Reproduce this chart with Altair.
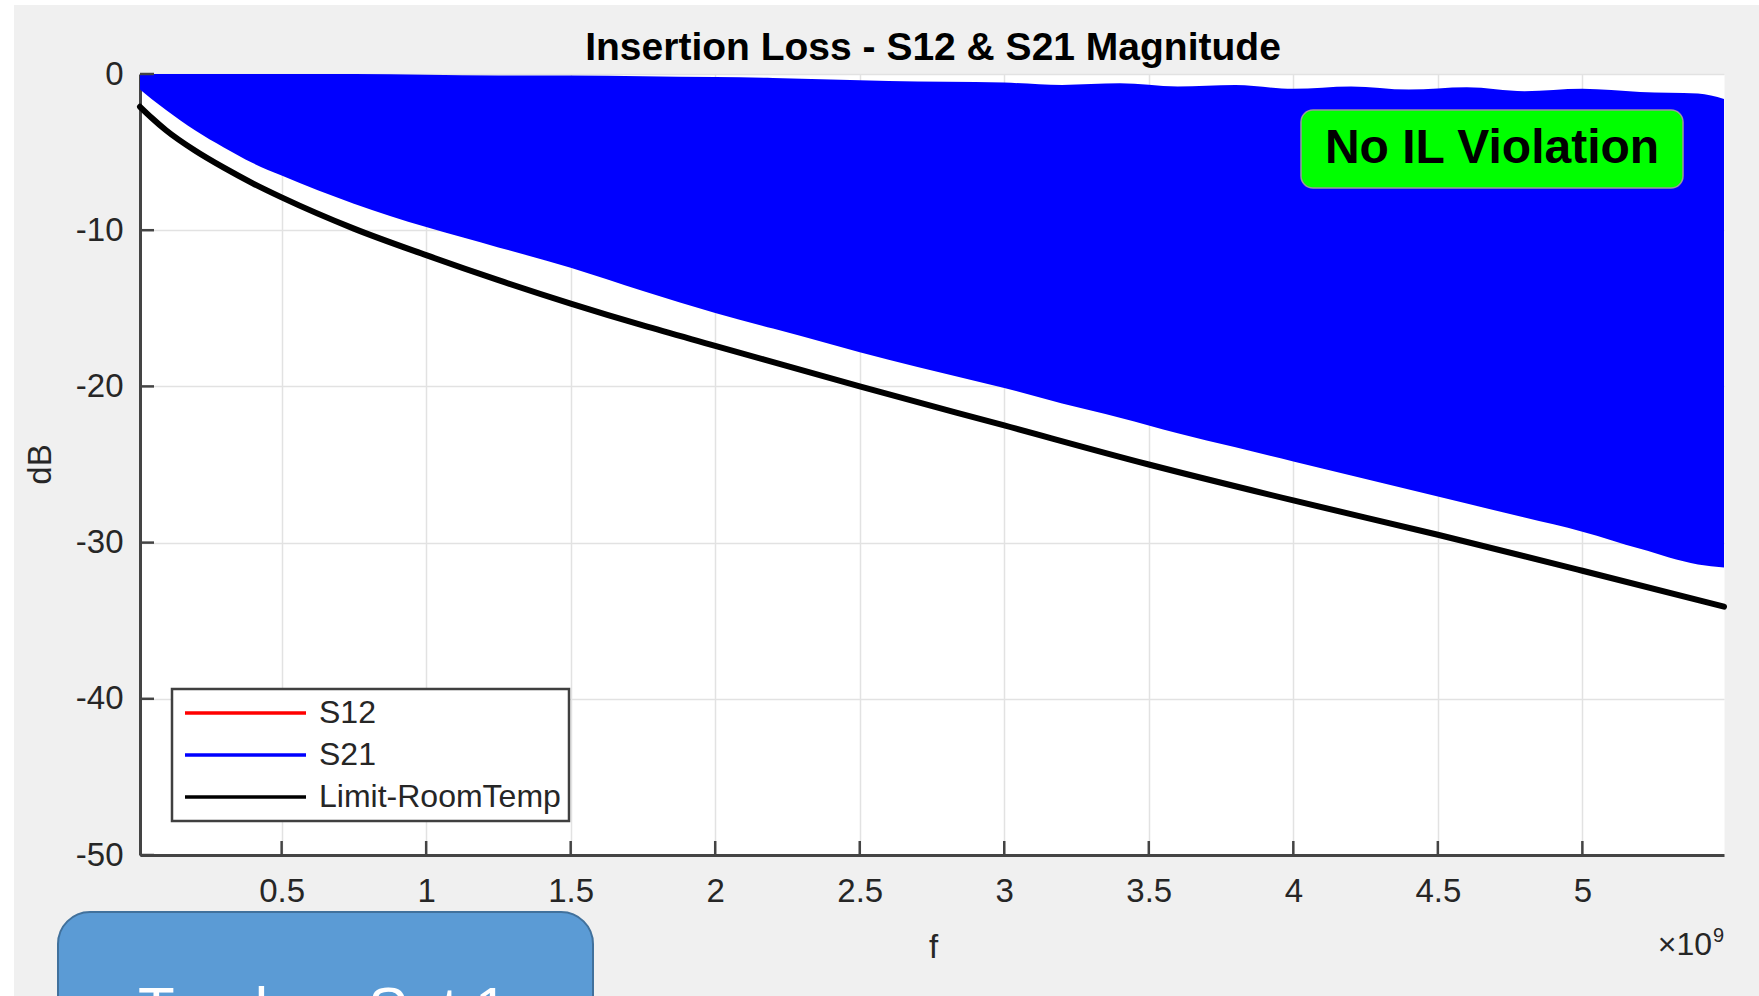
import altair as alt
import pandas as pd

FONT = "Liberation Sans"

# ---- data (frequency in units of 1e9 Hz, magnitude in dB) ----
F_BAND = [0.01, 0.05, 0.1, 0.2, 0.3, 0.4, 0.5, 0.75, 1.0, 1.25, 1.5, 1.75, 2.0, 2.2, 2.4, 2.6,
          2.8, 3.0, 3.2, 3.4, 3.6, 3.8, 4.0, 4.2, 4.4, 4.6, 4.8, 5.0, 5.2, 5.4, 5.49]
S21_TOP = [0.0, 0.0, 0.0, 0.0, 0.0, 0.0, 0.0, 0.0, -0.05, -0.1, -0.1, -0.15, -0.2, -0.25, -0.35, -0.45,
           -0.5, -0.55, -0.7, -0.6, -0.8, -0.7, -0.95, -0.8, -1.0, -0.85, -1.1, -0.95, -1.15, -1.25, -1.6]
S21_BOTTOM = [-1.0, -1.6, -2.3, -3.6, -4.7, -5.7, -6.5, -8.3, -9.8, -11.1, -12.4, -13.9, -15.3, -16.3, -17.3,
              -18.3, -19.2, -20.1, -21.1, -22.0, -23.0, -23.9, -24.8, -25.7, -26.6, -27.5, -28.4, -29.3,
              -30.4, -31.4, -31.6]

F_LIMIT = [0.01, 0.05, 0.1, 0.2, 0.3, 0.4, 0.5, 0.75, 1.0, 1.25, 1.5, 1.75, 2.0, 2.5, 3.0, 3.5, 4.0, 4.5,
           5.0, 5.49]
LIMIT = [-2.1, -2.8, -3.6, -4.9, -6.0, -7.0, -7.9, -9.9, -11.6, -13.2, -14.7, -16.1, -17.4, -20.0, -22.5,
         -25.0, -27.3, -29.5, -31.8, -34.1]

SERIES = ["S12", "S21", "Limit-RoomTemp"]
SERIES_COLORS = ["#ff0000", "#0000ff", "#000000"]

X_TICKS = [0.5, 1, 1.5, 2, 2.5, 3, 3.5, 4, 4.5, 5]
Y_TICKS = [0, -10, -20, -30, -40, -50]
X_DOMAIN = [0.01, 5.49]
Y_DOMAIN = [-50, 0]

TITLE = "Insertion Loss - S12 & S21 Magnitude"
X_TITLE = "f"
Y_TITLE = "dB"
X_EXP = "×10"
X_EXP_SUP = "9"
BADGE = "No IL Violation"
SLIDE_LABEL = "Tandem Set 1"

# ---- layout ----
W, H = 1584, 781
PAD = {"left": 140, "top": 74, "right": 35, "bottom": 141}

band_df = pd.DataFrame({"f": F_BAND, "dB": S21_TOP, "dB2": S21_BOTTOM, "series": "S21"})
lim_df = pd.DataFrame({"f": F_LIMIT, "dB": LIMIT, "series": "Limit-RoomTemp"})
xt_df = pd.DataFrame({"f": X_TICKS})
yt_df = pd.DataFrame({"dB": Y_TICKS})

xs = alt.Scale(domain=X_DOMAIN, nice=False, zero=False)
ys = alt.Scale(domain=Y_DOMAIN, nice=False, zero=False)

x_axis = alt.Axis(
    values=X_TICKS, labelExpr="datum.value + ''", ticks=False, grid=True,
    gridColor="#e2e2e2", gridWidth=1.5, domainColor="#444444", domainWidth=3,
    labelFont=FONT, labelFontSize=33, labelColor="#262626", labelPadding=20,
    title=X_TITLE, titleFont=FONT, titleFontSize=33, titleFontWeight="normal",
    titleColor="#262626", titleX=793, titleY=102, titleBaseline="alphabetic",
    titleAlign="center", labelFlush=False, labelOverlap=False, zindex=0,
)
y_axis = alt.Axis(
    values=Y_TICKS, labelExpr="datum.value + ''", ticks=False, grid=True,
    gridColor="#e2e2e2", gridWidth=1.5, domainColor="#444444", domainWidth=3,
    labelFont=FONT, labelFontSize=33, labelColor="#262626", labelPadding=17,
    title=Y_TITLE, titleFont=FONT, titleFontSize=33, titleFontWeight="normal",
    titleColor="#262626", titleX=-100, titleY=390, titleAngle=270,
    titleBaseline="middle", titleAlign="center", labelFlush=False, labelOverlap=False, zindex=0,
)

legend = alt.Legend(
    title=None, orient="none", legendX=32, legendY=615, direction="vertical",
    symbolType="stroke", symbolSize=121 * 121, symbolStrokeWidth=3.5, clipHeight=32,
    symbolOffset=3, labelOffset=11, labelFont=FONT, labelFontSize=32, labelColor="#262626",
    labelLimit=0, padding=8, rowPadding=10, fillColor="#ffffff", strokeColor="#404040",
    cornerRadius=0, symbolOpacity=1,
)
color = alt.Color("series:N", scale=alt.Scale(domain=SERIES, range=SERIES_COLORS), legend=legend)

X = alt.X("f:Q", scale=xs, axis=x_axis)
Y = alt.Y("dB:Q", scale=ys, axis=y_axis)

limit = alt.Chart(lim_df).mark_line(interpolate="monotone", strokeWidth=6, strokeCap="round").encode(
    x=X, y=Y, color=color
)
band = alt.Chart(band_df).mark_area(interpolate="monotone", opacity=1, line=False).encode(
    x=X, y=Y, y2="dB2:Q", color=color
)
xticks = alt.Chart(xt_df).mark_rule(color="#444444", strokeWidth=2.5).encode(
    x=X, y=alt.value(H), y2=alt.value(H - 14)
)
yticks = alt.Chart(yt_df).mark_rule(color="#444444", strokeWidth=2.5).encode(
    y=Y, x=alt.value(0), x2=alt.value(14)
)


def box(x, x2, y, y2, **kw):
    return alt.Chart(pd.DataFrame({"k": [0]})).mark_rect(**kw).encode(
        x=alt.value(x), x2=alt.value(x2), y=alt.value(y), y2=alt.value(y2)
    )


def label(text, x, y, **kw):
    return alt.Chart(pd.DataFrame({"t": [text]})).mark_text(font=FONT, **kw).encode(
        text="t:N", x=alt.value(x), y=alt.value(y)
    )


top_strip = box(-PAD["left"], W + PAD["right"], -PAD["top"], -PAD["top"] + 5, color="#ffffff")
left_strip = box(-PAD["left"], -PAD["left"] + 14, -PAD["top"], H + PAD["bottom"], color="#ffffff")

title = label(TITLE, 793, -14, fontSize=39, fontWeight="bold", color="#000000",
              align="center", baseline="alphabetic")
exp_main = label(X_EXP, 1572, 881, fontSize=32, color="#262626", align="right", baseline="alphabetic")
exp_sup = label(X_EXP_SUP, 1573, 868, fontSize=20, color="#262626", align="left", baseline="alphabetic")

badge_box = box(1161, 1543, 36, 114, color="#00ff00", stroke="#9a9a9a", strokeWidth=1.5, cornerRadius=12)
badge_text = label(BADGE, 1352, 89, fontSize=48, fontWeight="bold", color="#000000",
                   align="center", baseline="alphabetic")

slide_box = box(-82, 453, 838, 1010, color="#5b9bd5", stroke="#41719c", strokeWidth=2, cornerRadius=32)
slide_text = label(SLIDE_LABEL, 183, 955, fontSize=60, color="#ffffff", align="center", baseline="alphabetic")

chart = alt.layer(
    top_strip, left_strip, limit, band, xticks, yticks,
    badge_box, badge_text, title, exp_main, exp_sup, slide_box, slide_text,
).properties(
    width=W, height=H, padding=PAD, autosize=alt.AutoSizeParams(type="none"),
).configure(background="#f0f0f0").configure_view(
    fill="#ffffff", stroke="transparent"
).configure_legend(strokeWidth=2.5)

chart.save("out.html", embed_options={"renderer": "svg", "actions": False})
